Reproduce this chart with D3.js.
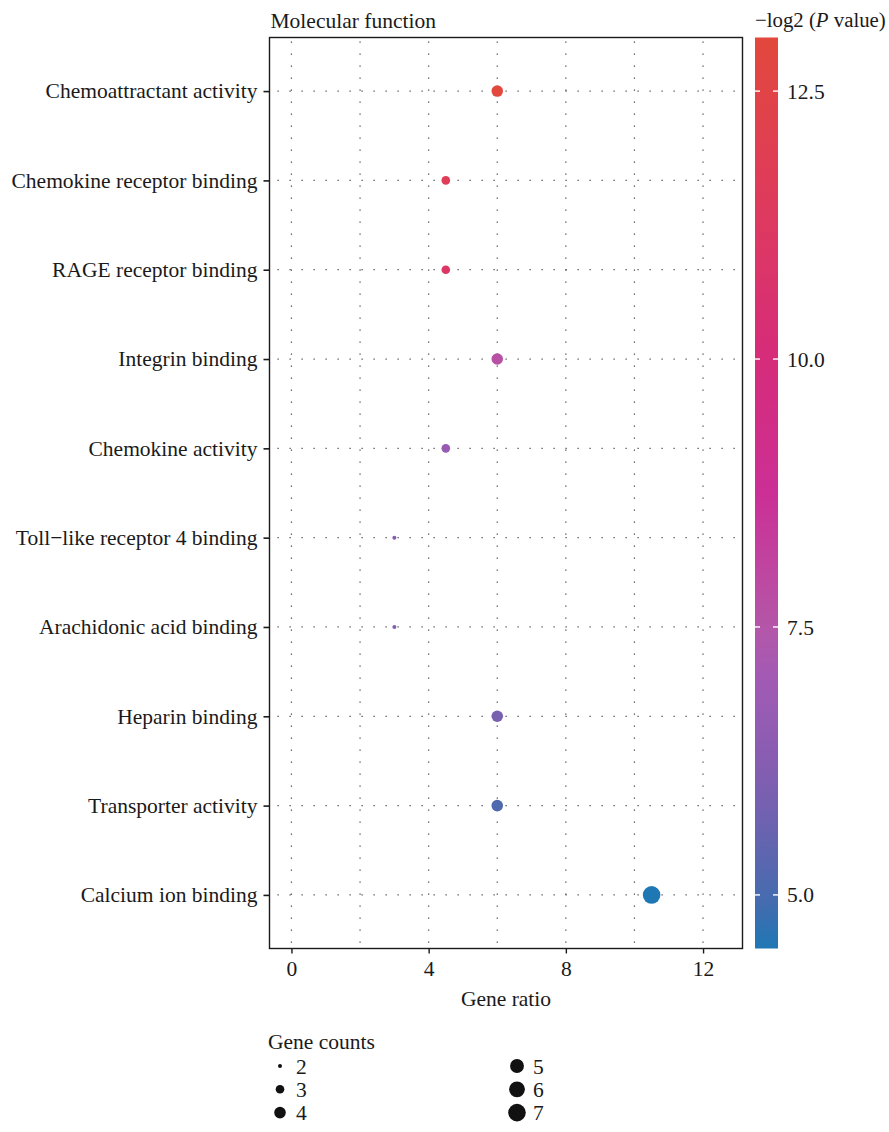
<!DOCTYPE html>
<html>
<head>
<meta charset="utf-8">
<script src="https://cdn.jsdelivr.net/npm/d3@7"></script>
<style>
  body { margin: 0; background: #fff; }
  text { font-family: "Liberation Serif", "Times New Roman", serif; fill: #1a1a1a; }
</style>
</head>
<body>
<div id="chart"></div>
<script>
// Data
var categories = [
  'Chemoattractant activity',
  'Chemokine receptor binding',
  'RAGE receptor binding',
  'Integrin binding',
  'Chemokine activity',
  'Toll\u2212like receptor 4 binding',
  'Arachidonic acid binding',
  'Heparin binding',
  'Transporter activity',
  'Calcium ion binding'
];
var gene_ratio  = [6, 4.5, 4.5, 6, 4.5, 3, 3, 6, 6, 10.5];
var gene_counts = [4, 3, 3, 4, 3, 2, 2, 4, 4, 7];
var neg_log2_p  = [13.0, 11.7, 11.1, 7.7, 6.7, 6.2, 6.1, 5.9, 5.1, 4.5];

var x_ticks  = [0, 4, 8, 12];
var x_grid   = [0, 2, 4, 6, 8, 10, 12];
var cb_ticks = [5.0, 7.5, 10.0, 12.5];
var legend_counts = [2, 3, 4, 5, 6, 7];

// colour ramp stops (value -> colour)
var ramp_values = [4.5, 5.0, 6.0, 7.0, 7.5, 8.7, 10.0, 11.5, 13.0];
var ramp_colors = ['#1f77b4', '#4a6aae', '#7e5eb0', '#a15ab5', '#b457a8', '#cb2f96', '#d62c7a', '#de3b5c', '#e2483c'];

var width  = 889;
var height = 1132;
var panel  = { left: 269.5, right: 742.5, top: 37.5, bottom: 948.5 };
var font_size = 21.5;

var svg = d3.select('#chart')
    .append('svg')
    .attr('width', width)
    .attr('height', height);

// Scales
var x_scale = d3.scaleLinear()
    .domain([-0.64, 13.15])
    .range([panel.left, panel.right]);

var step = (panel.bottom - panel.top) / (categories.length - 1 + 1.2);
var y_scale = d3.scalePoint()
    .domain(categories)
    .range([panel.top + 0.6 * step, panel.bottom - 0.6 * step]);

var r_scale = d3.scaleRadial()
    .domain([2, 7])
    .range([2, 8.8]);

var color_scale = d3.scaleLinear()
    .domain(ramp_values)
    .range(ramp_colors)
    .interpolate(d3.interpolateRgb);

// Grid
var grid = svg.append('g')
    .attr('stroke', '#444')
    .attr('stroke-width', 1.2)
    .attr('stroke-dasharray', '1.2,10.8');

grid.selectAll('.vgrid')
    .data(x_grid)
    .enter()
    .append('line')
    .attr('x1', function(d){ return x_scale(d); })
    .attr('x2', function(d){ return x_scale(d); })
    .attr('y1', panel.top + 4)
    .attr('y2', panel.bottom);

grid.selectAll('.hgrid')
    .data(categories)
    .enter()
    .append('line')
    .attr('x1', panel.left + 8)
    .attr('x2', panel.right)
    .attr('y1', function(d){ return y_scale(d); })
    .attr('y2', function(d){ return y_scale(d); });

// Points
svg.selectAll('circle.pt')
    .data(categories)
    .enter()
    .append('circle')
    .attr('class', 'pt')
    .attr('cx', function(d, i){ return x_scale(gene_ratio[i]); })
    .attr('cy', function(d){ return y_scale(d); })
    .attr('r', function(d, i){ return r_scale(gene_counts[i]); })
    .attr('fill', function(d, i){ return color_scale(neg_log2_p[i]); });

// Panel border
svg.append('rect')
    .attr('x', panel.left)
    .attr('y', panel.top)
    .attr('width', panel.right - panel.left)
    .attr('height', panel.bottom - panel.top)
    .attr('fill', 'none')
    .attr('stroke', '#1a1a1a')
    .attr('stroke-width', 1.4);

// Axes
var x_axis = d3.axisBottom(x_scale)
    .tickValues(x_ticks)
    .tickSize(5)
    .tickPadding(7)
    .tickFormat(d3.format('d'));

var gx = svg.append('g')
    .attr('transform', 'translate(0,' + panel.bottom + ')')
    .call(x_axis);
gx.select('.domain').remove();
gx.selectAll('line').attr('stroke', '#1a1a1a').attr('stroke-width', 1.4);
gx.selectAll('text')
    .attr('font-size', font_size)
    .attr('font-family', null)
    .attr('fill', '#1a1a1a');

var y_axis = d3.axisLeft(y_scale)
    .tickSize(6)
    .tickPadding(6);

var gy = svg.append('g')
    .attr('transform', 'translate(' + panel.left + ',0)')
    .call(y_axis);
gy.select('.domain').remove();
gy.selectAll('line').attr('stroke', '#1a1a1a').attr('stroke-width', 1.6);
gy.selectAll('text')
    .attr('font-size', font_size)
    .attr('font-family', null)
    .attr('fill', '#1a1a1a');

// Titles
svg.append('text')
    .attr('x', panel.left + 1)
    .attr('y', 28)
    .attr('font-size', font_size)
    .text('Molecular function');

svg.append('text')
    .attr('x', (panel.left + panel.right) / 2)
    .attr('y', 1006)
    .attr('text-anchor', 'middle')
    .attr('font-size', font_size)
    .text('Gene ratio');

// Colour bar
var cb = { x: 755, w: 23 };
var cb_scale = d3.scaleLinear()
    .domain([4.5, 13.0])
    .range([panel.bottom, panel.top]);

var defs = svg.append('defs');
var grad = defs.append('linearGradient')
    .attr('id', 'cbgrad')
    .attr('x1', 0).attr('y1', 1)
    .attr('x2', 0).attr('y2', 0);

grad.selectAll('stop')
    .data(d3.range(0, 1.0001, 0.05))
    .enter()
    .append('stop')
    .attr('offset', function(d){ return d; })
    .attr('stop-color', function(d){ return color_scale(4.5 + d * 8.5); });

svg.append('rect')
    .attr('x', cb.x)
    .attr('y', panel.top)
    .attr('width', cb.w)
    .attr('height', panel.bottom - panel.top)
    .attr('fill', 'url(#cbgrad)');

var cb_tick = svg.selectAll('.cbtick')
    .data(cb_ticks)
    .enter()
    .append('g')
    .attr('transform', function(d){ return 'translate(0,' + cb_scale(d) + ')'; });

cb_tick.append('line')
    .attr('x1', cb.x).attr('x2', cb.x + 5)
    .attr('stroke', '#fff').attr('stroke-width', 1.4);
cb_tick.append('line')
    .attr('x1', cb.x + cb.w - 5).attr('x2', cb.x + cb.w)
    .attr('stroke', '#fff').attr('stroke-width', 1.4);
cb_tick.append('text')
    .attr('x', 787)
    .attr('dy', '0.35em')
    .attr('font-size', font_size)
    .text(function(d){ return d3.format('.1f')(d); });

var cb_title = svg.append('text')
    .attr('x', 755)
    .attr('y', 27)
    .attr('font-size', 20.8);
cb_title.append('tspan').text('\u2212log2 (');
cb_title.append('tspan').attr('font-style', 'italic').text('P');
cb_title.append('tspan').text(' value)');

// Size legend
svg.append('text')
    .attr('x', 268)
    .attr('y', 1049)
    .attr('font-size', font_size)
    .text('Gene counts');

var legend = svg.selectAll('.leg')
    .data(legend_counts)
    .enter()
    .append('g')
    .attr('transform', function(d, i){
        var col = Math.floor(i / 3);
        var row = i % 3;
        return 'translate(' + (280 + col * 237) + ',' + (1066 + row * 23.3) + ')';
    });

legend.append('circle')
    .attr('r', function(d){ return r_scale(d); })
    .attr('fill', '#111');

legend.append('text')
    .attr('x', 16)
    .attr('dy', '0.35em')
    .attr('font-size', font_size)
    .text(function(d){ return d; });
</script>
</body>
</html>
